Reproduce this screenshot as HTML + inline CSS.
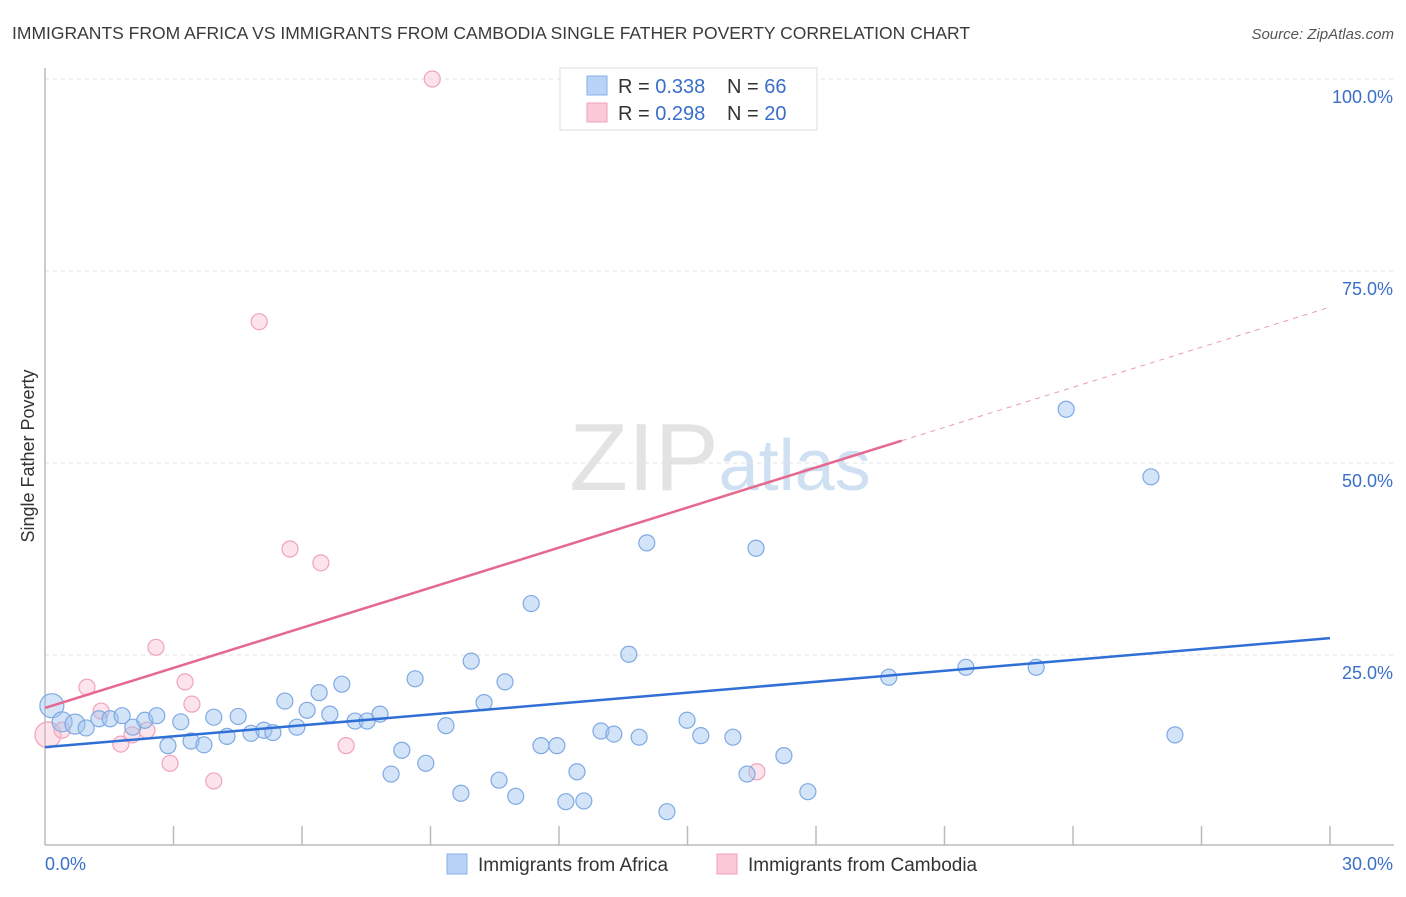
<!DOCTYPE html>
<html><head><meta charset="utf-8"><style>
body{margin:0;background:#fff;font-family:"Liberation Sans",sans-serif;}
svg text{font-family:"Liberation Sans",sans-serif;}
</style></head><body>
<svg id="chart" width="1406" height="892" xmlns="http://www.w3.org/2000/svg">
<text x="12" y="39" font-size="17.5" fill="#3a3a3a">IMMIGRANTS FROM AFRICA VS IMMIGRANTS FROM CAMBODIA SINGLE FATHER POVERTY CORRELATION CHART</text>
<text x="1394" y="39" font-size="15" fill="#555" font-style="italic" text-anchor="end">Source: ZipAtlas.com</text>
<text x="720" y="490" font-size="96" text-anchor="middle" fill="#e3e3e3" font-family="Liberation Serif"><tspan>ZIP</tspan><tspan fill="#cfe0f3" font-family="Liberation Sans" font-size="72">atlas</tspan></text>
<text transform="translate(34,456) rotate(-90)" font-size="18" fill="#333" text-anchor="middle">Single Father Poverty</text>
<g id="grid"></g><g id="axes"></g><g id="pink"></g><g id="blue"></g><g id="lines"></g>
<g>
<rect x="560" y="68" width="257" height="62" fill="#fff" stroke="#ddd"/>
<rect x="587" y="76" width="20" height="19" fill="#b8d3f5" stroke="#86b0e6"/>
<rect x="587" y="103" width="20" height="19" fill="#fcc9d8" stroke="#f0a0b8"/>
<text x="618" y="93" font-size="20" fill="#333">R = <tspan fill="#3a6fc9">0.338</tspan></text>
<text x="727" y="93" font-size="20" fill="#333">N = <tspan fill="#3a6fc9">66</tspan></text>
<text x="618" y="120" font-size="20" fill="#333">R = <tspan fill="#3a6fc9">0.298</tspan></text>
<text x="727" y="120" font-size="20" fill="#333">N = <tspan fill="#3a6fc9">20</tspan></text>
</g>
<g>
<rect x="447" y="854" width="20" height="20" fill="#b8d3f5" stroke="#86b0e6"/>
<text x="478" y="871" font-size="19" fill="#333">Immigrants from Africa</text>
<rect x="717" y="854" width="20" height="20" fill="#fcc9d8" stroke="#f0a0b8"/>
<text x="748" y="871" font-size="19" fill="#333">Immigrants from Cambodia</text>
</g>
</svg>
<script>
const NS="http://www.w3.org/2000/svg";
const yTicks=[25,50,75,100];
const yTickLabels=["25.0%","50.0%","75.0%","100.0%"];
const xTicks=[3,6,9,12,15,18,21,24,27,30];
const africaX=[0.16,0.40,0.70,0.96,1.26,1.52,1.80,2.05,2.33,2.61,2.87,3.17,3.41,3.71,3.94,4.25,4.51,4.81,5.11,5.32,5.60,5.88,6.12,6.40,6.65,6.93,7.24,7.52,7.82,8.08,8.33,8.64,8.89,9.36,9.71,9.95,10.25,10.60,10.74,10.99,11.35,11.58,11.95,12.16,12.42,12.58,12.98,13.28,13.63,13.87,14.05,14.52,14.99,15.31,16.06,16.39,16.60,17.25,17.81,19.70,21.50,23.14,23.84,25.82,26.38];
const africaY=[18.4,16.3,16.0,15.5,16.7,16.7,17.1,15.6,16.5,17.1,13.2,16.3,13.8,13.3,16.9,14.4,17.0,14.8,15.2,14.9,19.0,15.6,17.8,20.1,17.3,21.2,16.4,16.4,17.3,9.5,12.6,21.9,10.9,15.8,7.0,24.2,18.8,8.7,21.5,6.6,31.7,13.2,13.2,5.9,9.8,6.0,15.1,14.7,25.1,14.3,39.6,4.6,16.5,14.5,14.3,9.5,38.9,11.9,7.2,22.1,23.4,23.4,57.0,48.2,14.6];
const africaSize=[12,10,10,8,8,8,8,8,8,8,8,8,8,8,8,8,8,8,8,8,8,8,8,8,8,8,8,8,8,8,8,8,8,8,8,8,8,8,8,8,8,8,8,8,8,8,8,8,8,8,8,8,8,8,8,8,8,8,8,8,8,8,8,8,8];
const cambX=[0.07,0.40,0.98,1.31,1.77,2.03,2.38,2.59,2.92,3.27,3.43,3.94,5.00,5.72,6.44,7.03,9.04,16.62];
const cambY=[14.6,15.2,20.8,17.7,13.4,14.6,15.2,26.0,10.9,21.5,18.6,8.6,68.4,38.8,37.0,13.2,100,9.8];
const cambSize=[13,8,8,8,8,8,8,8,8,8,8,8,8,8,8,8,8,8];
const africaTrend=[13.0,27.2];
const cambTrend=[18.1,70.3];
const cambSolidEnd=20.0;
const X=v=>45+v/30*1285, Y=v=>847-v*7.68;
function mk(tag,attrs,parent){const e=document.createElementNS(NS,tag);for(const k in attrs)e.setAttribute(k,attrs[k]);document.getElementById(parent).appendChild(e);return e;}
yTicks.forEach((t,i)=>{
 const g=mk('line',{x1:45,x2:1394,y1:Y(t),y2:Y(t),stroke:'#e2e2e2','stroke-dasharray':'4,4'},'grid');
 
 
 const l=mk('text',{x:1393,y:Y(t)+24,'font-size':18,fill:'#3a6fc9','text-anchor':'end'},'grid');
 l.textContent=yTickLabels[i];
 
 
});
let a=mk('line',{x1:45,x2:45,y1:68,y2:845,stroke:'#bbb','stroke-width':1.5},'axes');


a=mk('line',{x1:45,x2:1394,y1:845,y2:845,stroke:'#bbb','stroke-width':1.5},'axes');


xTicks.forEach(t=>{const k=mk('line',{x1:X(t),x2:X(t),y1:826,y2:845,stroke:'#bbb','stroke-width':1.5},'axes');
 
 });
let tl=mk('text',{x:45,y:870,'font-size':18,fill:'#3a6fc9'},'axes');tl.textContent='0.0%';


tl=mk('text',{x:1393,y:870,'font-size':18,fill:'#3a6fc9','text-anchor':'end'},'axes');tl.textContent='30.0%';


cambX.forEach((x,i)=>{const c=mk('circle',{cx:X(x),cy:Y(cambY[i]),r:cambSize[i],fill:'rgba(248,175,198,0.35)',stroke:'#f0a3bb','stroke-width':1.2},'pink');
 
 });
africaX.forEach((x,i)=>{const c=mk('circle',{cx:X(x),cy:Y(africaY[i]),r:africaSize[i],fill:'rgba(160,196,240,0.45)',stroke:'#7eaae3','stroke-width':1.2},'blue');
 
 });
const cy=x=>cambTrend[0]+(cambTrend[1]-cambTrend[0])*x/30;
let ln=mk('line',{x1:X(0),y1:Y(africaTrend[0]),x2:X(30),y2:Y(africaTrend[1]),stroke:'#2f6fd6','stroke-width':2.5},'lines');


ln=mk('line',{x1:X(0),y1:Y(cy(0)),x2:X(cambSolidEnd),y2:Y(cy(cambSolidEnd)),stroke:'#e5688f','stroke-width':2.5},'lines');


ln=mk('line',{x1:X(cambSolidEnd),y1:Y(cy(cambSolidEnd)),x2:X(30),y2:Y(cy(30)),stroke:'#eb9ab2','stroke-width':1,'stroke-dasharray':'5,5'},'lines');


</script>
</body></html>
